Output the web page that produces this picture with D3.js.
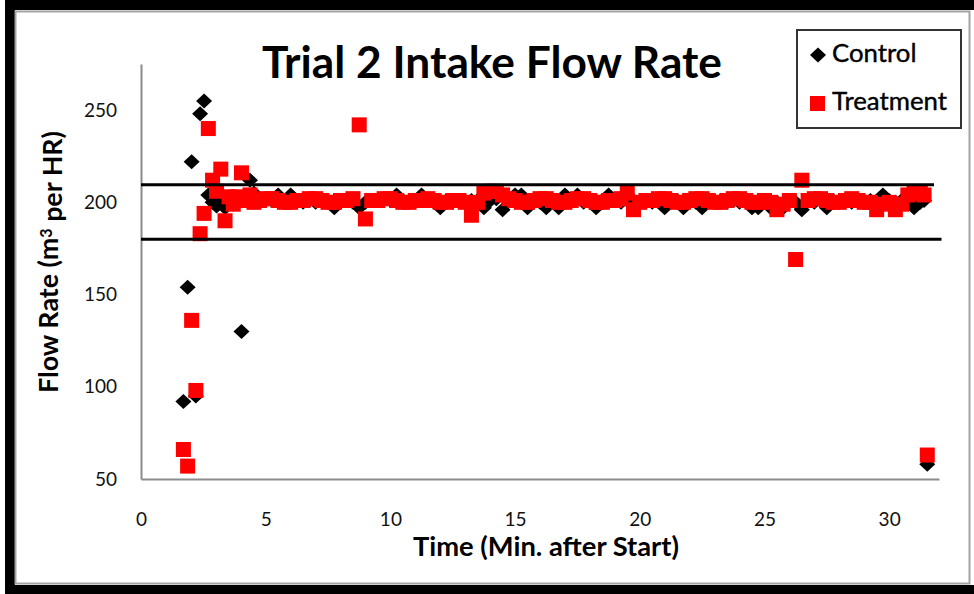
<!DOCTYPE html>
<html>
<head>
<meta charset="utf-8">
<script src="https://cdn.jsdelivr.net/npm/d3@7"></script>
<style>
    body { margin: 0; background: #fff; }
    #viz-container { width: 974px; height: 594px; }
</style>
</head>
<body>
<div id="viz-container"></div>
<script>
// sample times (minutes after start), shared by both series
// first part every 10 s, steady part read every 15 s
const minutes = [
    1.70, 1.87, 2.03, 2.20, 2.37, 2.53, 2.70, 2.87, 3.03, 3.20, 3.37, 3.53, 3.70, 3.87, 4.03, 4.20, 4.37, 4.53,
    4.75, 5.00, 5.25, 5.50, 5.75, 6.00, 6.25, 6.50,
    6.75, 7.00, 7.25, 7.50, 7.75, 8.00, 8.25, 8.50,
    8.75, 9.00, 9.25, 9.50, 9.75, 10.00, 10.25, 10.50,
    10.75, 11.00, 11.25, 11.50, 11.75, 12.00, 12.25, 12.50,
    12.75, 13.00, 13.25, 13.50, 13.75, 14.00, 14.25, 14.50,
    14.75, 15.00, 15.25, 15.50, 15.75, 16.00, 16.25, 16.50,
    16.75, 17.00, 17.25, 17.50, 17.75, 18.00, 18.25, 18.50,
    18.75, 19.00, 19.25, 19.50, 19.75, 20.00, 20.25, 20.50,
    20.75, 21.00, 21.25, 21.50, 21.75, 22.00, 22.25, 22.50,
    22.75, 23.00, 23.25, 23.50, 23.75, 24.00, 24.25, 24.50,
    24.75, 25.00, 25.25, 25.50, 25.75, 26.00, 26.25, 26.50,
    26.75, 27.00, 27.25, 27.50, 27.75, 28.00, 28.25, 28.50,
    28.75, 29.00, 29.25, 29.50, 29.75, 30.00, 30.25, 30.50,
    30.75, 31.00, 31.25, 31.40, 31.53
];

// flow rate, m3 per HR
const control = [
    92, 154, 222, 95, 248, 255, 204, 200, 198, 203, 197, 201, 199, 202, 130, 203, 212, 205,
    202, 201, 201, 204, 201, 204, 201, 200,
    201, 200, 201, 200, 197, 200, 201, 200,
    197, 200, 201, 201, 202, 201, 204, 201,
    200, 201, 204, 201, 200, 197, 201, 200,
    201, 200, 201, 201, 197, 201, 202, 196,
    201, 204, 204, 197, 201, 200, 197, 201,
    197, 204, 201, 204, 200, 201, 197, 201,
    204, 201, 200, 201, 201, 200, 201, 200,
    201, 197, 200, 201, 197, 201, 200, 197,
    201, 200, 201, 200, 201, 200, 201, 197,
    197, 201, 197, 200, 197, 201, 200, 196,
    201, 200, 201, 197, 201, 200, 201, 200,
    201, 200, 201, 200, 204, 201, 200, 201,
    201, 197, 200, 201, 58
];

const treatment = [
    66, 57, 136, 98, 183, 194, 240, 212, 206, 218, 190, 203, 199, 203, 216, 201, 204, 200,
    201, 202, 202, 201, 200, 200, 201, 201,
    202, 202, 201, 200, 200, 201, 201, 202,
    242, 191, 201, 201, 202, 202, 201, 200,
    200, 201, 201, 202, 201, 200, 200, 201,
    201, 200, 193, 200, 205, 206, 206, 204,
    202, 201, 200, 200, 201, 202, 202, 201,
    200, 200, 201, 202, 202, 201, 200, 200,
    201, 201, 202, 205, 196, 200, 201, 201,
    202, 202, 201, 200, 200, 201, 202, 202,
    201, 200, 200, 201, 202, 202, 201, 200,
    200, 201, 200, 196, 199, 201, 169, 212,
    201, 202, 202, 201, 200, 200, 201, 202,
    201, 200, 200, 196, 199, 200, 196, 199,
    204, 205, 205, 204, 63
];

// the two hand drawn limit lines: level and where each one stops (minutes)
const limitLevels = [209.5, 180];
const limitEnds = [31.8, 32.1];

const xTicks = [0, 5, 10, 15, 20, 25, 30];
const yTicks = [50, 100, 150, 200, 250];

const drawChart = () => {
    var width = 974;
    var height = 594;

    const svg = d3.select('#viz-container')
        .append("svg")
        .attr("width", width)
        .attr("height", height)
        .attr("viewBox", [0, 0, width, height]);

    // picture frame: black band left/top/bottom, gray chart-area border
    svg.append("rect").attr("width", width).attr("height", height).attr("fill", "#fff");
    svg.append("rect").attr("x", 5).attr("y", 0).attr("width", 10).attr("height", height).attr("fill", "#000");
    svg.append("rect").attr("x", 5).attr("y", 0).attr("width", width - 5).attr("height", 10).attr("fill", "#000");
    svg.append("rect").attr("x", 5).attr("y", 585).attr("width", width - 5).attr("height", 9).attr("fill", "#000");
    svg.append("rect")
        .attr("x", 15.5).attr("y", 11.5)
        .attr("width", 954).attr("height", 572)
        .attr("fill", "#fff")
        .attr("stroke", "#a3a3a3")
        .attr("stroke-width", 2);

    const x = d3.scaleLinear().domain([0, 32]).range([141, 939]);
    const y = d3.scaleLinear().domain([50, 275]).range([479, 64]);

    const font = "Lato, 'Open Sans', sans-serif";

    // axes - no tick marks, gray axis lines
    const yAxis = svg.append("g")
        .attr("transform", "translate(141,0)")
        .call(d3.axisLeft(y).tickValues(yTicks).tickSize(0).tickPadding(24));
    const xAxis = svg.append("g")
        .attr("transform", "translate(0,479)")
        .call(d3.axisBottom(x).tickValues(xTicks).tickSize(0).tickPadding(34));

    [xAxis, yAxis].forEach(a => {
        a.select(".domain").attr("stroke", "#8c8c8c").attr("stroke-width", 2);
        a.selectAll("text")
            .attr("font-family", font)
            .attr("font-size", 19)
            .attr("fill", "#111");
    });

    const pts = minutes.map((m, i) => ({ t: m, c: control[i], r: treatment[i] }));

    // control first so treatment squares sit on top
    svg.append("g")
        .attr("class", "control")
        .selectAll("path")
        .data(pts)
        .join("path")
        .attr("d", "M0,-7.5L8,0L0,7.5L-8,0Z")
        .attr("transform", d => `translate(${x(d.t)},${y(d.c)})`)
        .attr("fill", "#000");

    const sq = 15;
    svg.append("g")
        .attr("class", "treatment")
        .selectAll("rect")
        .data(pts)
        .join("rect")
        .attr("x", d => x(d.t) - sq / 2)
        .attr("y", d => y(d.r) - sq / 2)
        .attr("width", sq)
        .attr("height", sq)
        .attr("fill", "#ff0000");

    // limit lines
    svg.append("g")
        .selectAll("line")
        .data(limitLevels)
        .join("line")
        .attr("x1", x(0))
        .attr("x2", (d, i) => x(limitEnds[i]))
        .attr("y1", d => y(d))
        .attr("y2", d => y(d))
        .attr("stroke", "#000")
        .attr("stroke-width", 3);

    // scale a text's font-size so it spans the wanted width
    function fit(sel, w) {
        var cur = sel.node().getComputedTextLength();
        var fs = parseFloat(sel.attr("font-size"));
        sel.attr("font-size", fs * w / cur);
    }

    const title = svg.append("text")
        .attr("x", 492)
        .attr("y", 78)
        .attr("text-anchor", "middle")
        .attr("font-family", font)
        .attr("font-weight", "bold")
        .attr("font-size", 40)
        .text("Trial 2 Intake Flow Rate");
    fit(title, 460);

    const xTitle = svg.append("text")
        .attr("x", 546)
        .attr("y", 556)
        .attr("text-anchor", "middle")
        .attr("font-family", font)
        .attr("font-weight", "bold")
        .attr("font-size", 21)
        .text("Time (Min. after Start)");
    fit(xTitle, 266);

    const yTitle = svg.append("text")
        .attr("transform", "translate(58,262) rotate(-90)")
        .attr("text-anchor", "middle")
        .attr("font-family", font)
        .attr("font-weight", "bold")
        .attr("font-size", 21);
    yTitle.append("tspan").text("Flow Rate (m");
    yTitle.append("tspan").attr("dy", "-0.4em").attr("font-size", "0.6em").text("3");
    yTitle.append("tspan").attr("dy", "0.4em").text(" per HR)");
    fit(yTitle, 262);

    // legend
    const legend = svg.append("g").attr("class", "legend");
    legend.append("rect")
        .attr("x", 797).attr("y", 30)
        .attr("width", 164).attr("height", 98)
        .attr("fill", "#fff")
        .attr("stroke", "#333")
        .attr("stroke-width", 2);
    legend.append("path")
        .attr("d", "M0,-7.5L8,0L0,7.5L-8,0Z")
        .attr("transform", "translate(818,55)")
        .attr("fill", "#000");
    legend.append("rect")
        .attr("x", 810).attr("y", 96)
        .attr("width", 15).attr("height", 15)
        .attr("fill", "#ff0000");
    const labels = legend.selectAll("text.lab")
        .data(["Control", "Treatment"])
        .join("text")
        .attr("class", "lab")
        .attr("x", 832)
        .attr("y", (d, i) => i ? 110 : 62)
        .attr("font-family", font)
        .attr("font-size", 21)
        .attr("fill", "#000")
        .attr("stroke", "#000")
        .attr("stroke-width", 0.4)
        .text(d => d);
    fit(d3.select(labels.nodes()[1]), 115);
    d3.select(labels.nodes()[0]).attr("font-size", d3.select(labels.nodes()[1]).attr("font-size"));
};

drawChart();
</script>
</body>
</html>
